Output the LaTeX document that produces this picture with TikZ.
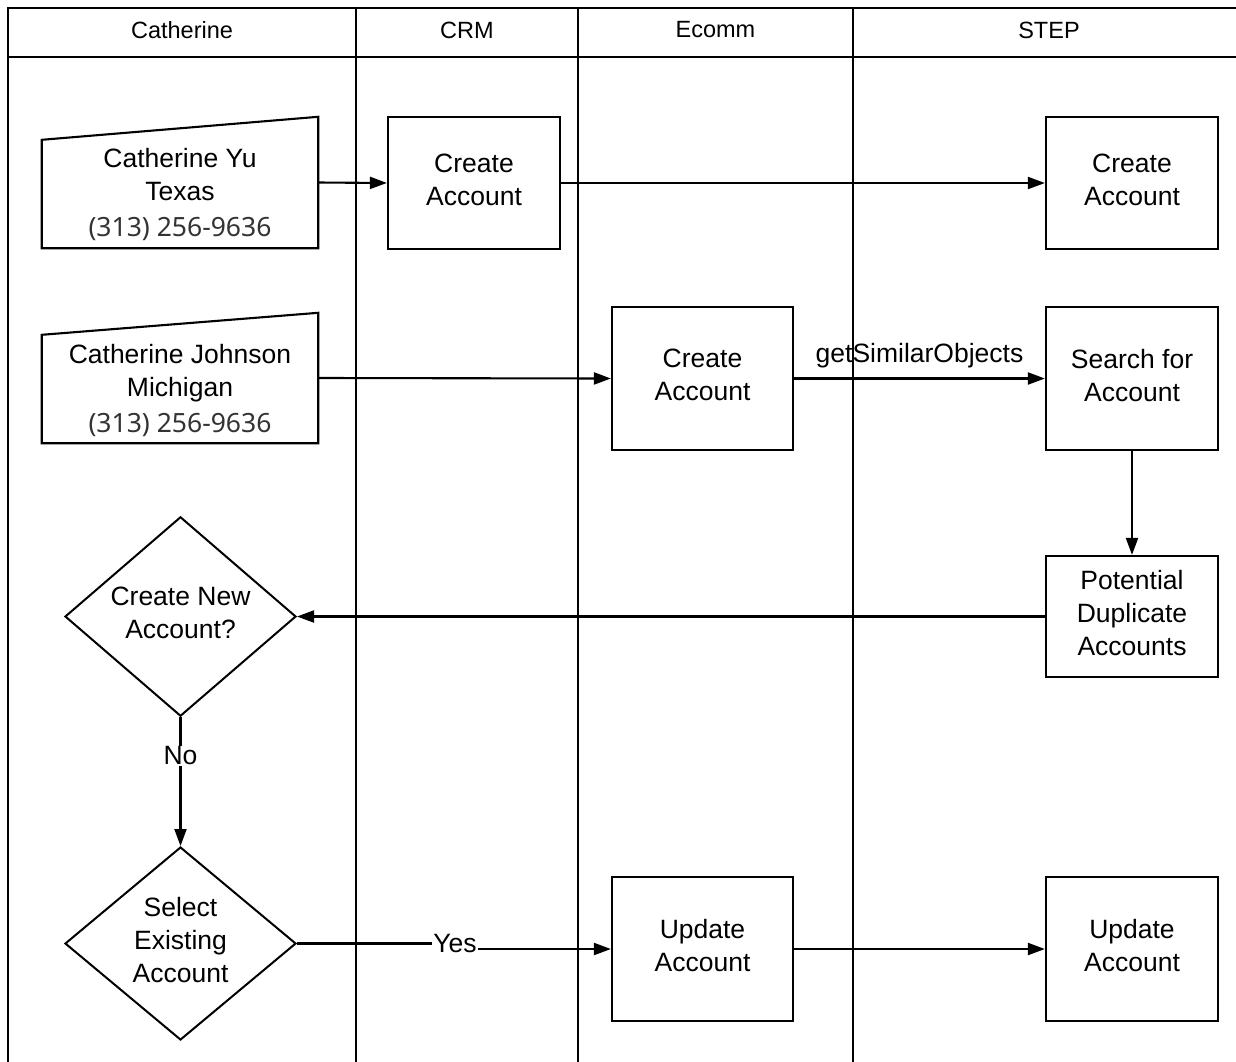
\documentclass[tikz,border=0pt]{standalone}
\usepackage{fontspec}
\setmainfont{Liberation Sans}
\newfontfamily\phonefont{Noto Sans}
\usetikzlibrary{shapes.geometric,arrows.meta}
\definecolor{phonegray}{HTML}{333333}
\begin{document}
\begin{tikzpicture}[x=1bp,y=-1bp,
  lane/.style={line width=2.3bp},
  hdr/.style={font=\fontsize{23.5bp}{28bp}\selectfont, inner sep=0},
  txt/.style={font=\fontsize{26.5bp}{33bp}\selectfont, align=center, inner sep=0},
  box/.style={draw, line width=2.2bp, align=center, inner sep=0, text depth=7bp,
    font=\fontsize{26.5bp}{33bp}\selectfont},
  dia/.style={draw, diamond, line width=2bp, inner sep=0, align=center, text depth=8bp,
    font=\fontsize{26.5bp}{33bp}\selectfont},
  shapebox/.style={inner sep=0},
  arr/.style={line width=2.1bp, -{Triangle[length=17bp,width=12bp]}},
  lbl/.style={font=\fontsize{26.5bp}{33bp}\selectfont, fill=white, inner sep=1bp},
]
\useasboundingbox (0,0) rectangle (1236,1062);
\clip (0,0) rectangle (1236,1062);
\fill[white] (0,0) rectangle (1236,1062);

% lanes
\draw[lane] (1250,8) -- (8,8) -- (8,1075);
\draw[lane] (8,57) -- (1250,57);
\draw[lane] (356,8) -- (356,1075);
\draw[lane] (578,8) -- (578,1075);
\draw[lane] (853,8) -- (853,1075);

\node[hdr] (h1) at (182,30) {Catherine};
\node[hdr] (h2) at (467,30) {CRM};
\node[hdr] (h3) at (715.5,30) {Ecomm};
\node[hdr] (h4) at (1049,30) {STEP};

% manual inputs
\node[shapebox, minimum width=276bp, minimum height=131bp] (mi1) at (180,182.5) {};
\draw[line width=2.1bp] (mi1.south west) -- (mi1.south east) -- (mi1.north east)
  -- ([yshift=-23bp]mi1.north west) -- cycle;
\node[txt] (mi1t) at (180,194) {Catherine Yu\\Texas\\[3bp]{\phonefont\color{phonegray}(313) 256-9636}};

\node[shapebox, minimum width=276bp, minimum height=130bp] (mi2) at (180,378) {};
\draw[line width=2.1bp] (mi2.south west) -- (mi2.south east) -- (mi2.north east)
  -- ([yshift=-22bp]mi2.north west) -- cycle;
\node[txt] (mi2t) at (180,390) {Catherine Johnson\\Michigan\\[3bp]{\phonefont\color{phonegray}(313) 256-9636}};

% boxes
\node[box, minimum width=172bp, minimum height=132bp] (crm) at (474,183) {Create\\Account};
\node[box, minimum width=172bp, minimum height=132bp] (step1) at (1132,183) {Create\\Account};
\node[box, minimum width=181bp, minimum height=143bp] (ec1) at (702.5,378.5) {Create\\Account};
\node[box, minimum width=172bp, minimum height=143bp] (srch) at (1132,378.5) {Search for\\Account};
\node[box, minimum width=172bp, minimum height=121bp] (pda) at (1132,616.5) {Potential\\Duplicate\\Accounts};
\node[box, minimum width=181bp, minimum height=144bp] (upd1) at (702.5,949) {Update\\Account};
\node[box, minimum width=172bp, minimum height=144bp] (upd2) at (1132,949) {Update\\Account};

% decisions
\node[dia, minimum width=231bp, minimum height=197bp] (d1) at (180.5,616.5) {Create New\\Account?};
\node[dia, minimum width=231bp, minimum height=193bp] (d2) at (180.5,943.5) {Select\\Existing\\Account};

% connectors
\draw[arr] (mi1.east) -- (crm.west);
\draw[arr] (crm.east) -- (step1.west);
\draw[arr] (mi2.east) -- (ec1.west);
\draw[arr] (ec1.east) -- node[above=9bp, font=\fontsize{26.5bp}{33bp}\selectfont, inner sep=0] (gso) {getSimilarObjects} (srch.west);
\draw[arr] (srch.south) -- (pda.north);
\draw[arr] (pda.west) -- (d1.east);
\coordinate (nc) at (180.5,756);
\draw[arr] (d1.south) -- (d2.north);
\node[lbl] (no) at (nc) {No};
\coordinate (yc) at (455,944);
\draw[arr] (d2.east) -- (d2.east -| yc) -- (yc |- upd1.west) -- (upd1.west);
\node[lbl] (yes) at (yc) {Yes};
\draw[arr] (upd1.east) -- (upd2.west);
\end{tikzpicture}
\end{document}
